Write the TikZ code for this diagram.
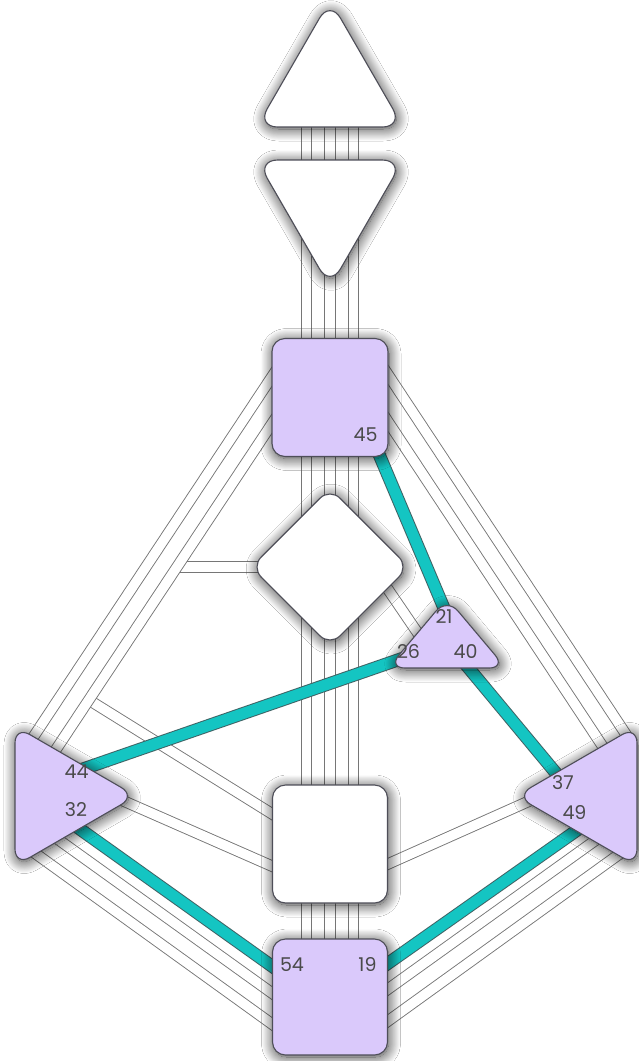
\documentclass[tikz,border=0pt]{standalone}
\usepackage{fontspec}
\setmainfont{Poppins}
\usetikzlibrary{shapes.geometric,shadows.blur,backgrounds}
\definecolor{lilac}{HTML}{DAC9FB}
\definecolor{rim}{HTML}{4E4E58}
\definecolor{wire}{HTML}{767676}
\definecolor{livefill}{HTML}{14C5C2}
\definecolor{liveedge}{HTML}{3E6365}
\definecolor{gatetext}{HTML}{4A4A4A}
\tikzset{
  centerbox/.style   = {draw=rim, line width=1.1pt, fill=#1, inner sep=0pt,
                        rounded corners=13pt,
                        blur shadow={shadow xshift=1pt, shadow yshift=-2pt,
                                     shadow blur radius=12pt, shadow blur steps=20,
                                     shadow opacity=80}},
  centerbox/.default = white,
  tube/.style        = {draw=wire, line width=0.9pt, double=white,
                        double distance=9.6pt},
  livetube/.style    = {draw=liveedge, line width=1pt, double=livefill,
                        double distance=11pt},
  gate/.style        = {text=gatetext, inner sep=0pt,
                        font=\fontsize{19}{19}\selectfont}
}

\begin{document}
\begin{tikzpicture}[x=1pt,y=-1pt]
  \useasboundingbox (0,0) rectangle (639,1061);

  % centres
  \draw[centerbox, rounded corners=21pt]
    (330,127) -- (256.7,127) -- (330,0) -- (403.3,127) -- cycle;
  \coordinate (head) at (330,85);
  \draw[centerbox, rounded corners=21pt]
    (330,160) -- (403.3,160) -- (330,287) -- (256.7,160) -- cycle;
  \coordinate (ajna) at (330,202);
  \node[centerbox=lilac, minimum width=116pt, minimum height=118pt]
    (throat) at (330,397.5) {};
  \node[centerbox, diamond, aspect=1, minimum width=158pt,
        minimum height=158pt, rounded corners=14pt] (self) at (330,567) {};
  \draw[centerbox=lilac, rounded corners=17pt]
    (447,668) -- (388,668) -- (447,598) -- (506,668) -- cycle;
  \coordinate (heart) at (447,645);
  \draw[centerbox=lilac, rounded corners=17pt]
    (15,796) -- (15,726) -- (136,796) -- (15,866) -- cycle;
  \coordinate (spleen) at (55,796);
  \draw[centerbox=lilac, rounded corners=17pt]
    (637,796) -- (637,866) -- (516,796) -- (637,726) -- cycle;
  \coordinate (solar) at (597,796);
  \node[centerbox, minimum width=115pt, minimum height=118pt]
    (sacral) at (330,844) {};
  \node[centerbox=lilac, minimum width=115pt, minimum height=116pt]
    (root) at (330,997) {};

  % gates
  \node[gate] (l45) at (365.5,434.5) {45};
  \node[gate] (l21) at (444,616) {21};
  \node[gate] (l26) at (408.5,651.5) {26};
  \node[gate] (l40) at (465.5,651.5) {40};
  \node[gate] (l44) at (76.5,772) {44};
  \node[gate] (l32) at (76,809.5) {32};
  \node[gate] (l37) at (563,782.5) {37};
  \node[gate] (l49) at (574.5,812.5) {49};
  \node[gate] (l54) at (292,964.5) {54};
  \node[gate] (l19) at (367.5,964.5) {19};

  \coordinate (p16) at (281,363);  \coordinate (p48) at (28,745);
  \coordinate (p20) at (285,404);  \coordinate (p57) at (49,760);
  \coordinate (p35) at (379,361);  \coordinate (p36) at (631,742);
  \coordinate (p12) at (375,402);  \coordinate (p22) at (615,765);
  \coordinate (p54) at (290,979);  \coordinate (p32) at (70,822);
  \coordinate (p38) at (290,1006); \coordinate (p28) at (45,830);
  \coordinate (p58) at (290,1037); \coordinate (p18) at (25,846);
  \coordinate (p19) at (370,976);  \coordinate (p49) at (590,821);
  \coordinate (p39) at (370,1002); \coordinate (p55) at (600,837);
  \coordinate (p41) at (370,1034); \coordinate (p30) at (625,850);
  \coordinate (p27) at (290,874);  \coordinate (p50) at (110,795);
  \coordinate (p59) at (370,872);  \coordinate (p6)  at (545,794);
  \coordinate (p25) at (370,563);  \coordinate (p51) at (430,651);
  \coordinate (p10) at (300,567);  \coordinate (j57) at (177,567);
  \coordinate (p34) at (290,825);  \coordinate (j20) at (89,700);
  \coordinate (p45) at (373,440);  \coordinate (p21) at (449,620);
  \coordinate (p40) at (462,660);  \coordinate (p37) at (560,778);
  \coordinate (p26) at (415,654);  \coordinate (p44) at (80,770);

  % channels
  \begin{scope}[on background layer]
    \fill[white] (0,0) rectangle (639,1061);
    \draw[tube] (p10) -- (j57);
    \draw[tube] (p34) -- (j20);
    \foreach \dx in {-23.5,0,23.5} {
      \draw[tube] ([xshift=\dx pt]head) -- ([xshift=\dx pt]ajna);
      \draw[tube] ([xshift=\dx pt]ajna) -- ([xshift=\dx pt]throat.center);
      \draw[tube] ([xshift=\dx pt]throat.center) -- ([xshift=\dx pt]self.center);
      \draw[tube] ([xshift=\dx pt]self.center) -- ([xshift=\dx pt]sacral.center);
      \draw[tube] ([xshift=\dx pt]sacral.center) -- ([xshift=\dx pt]root.center);
    }
    \draw[tube] (p16) -- (p48);
    \draw[tube] (p20) -- (p57);
    \draw[tube] (p35) -- (p36);
    \draw[tube] (p12) -- (p22);
    \draw[tube] (p38) -- (p28);
    \draw[tube] (p58) -- (p18);
    \draw[tube] (p39) -- (p55);
    \draw[tube] (p41) -- (p30);
    \draw[tube] (p27) -- (p50);
    \draw[tube] (p59) -- (p6);
    \draw[tube] (p25) -- (p51);
    \draw[livetube] (p45) -- (p21);
    \draw[livetube] (p40) -- (p37);
    \draw[livetube] (p26) -- (p44);
    \draw[livetube] (p54) -- (p32);
    \draw[livetube] (p19) -- (p49);
  \end{scope}
\end{tikzpicture}
\end{document}
